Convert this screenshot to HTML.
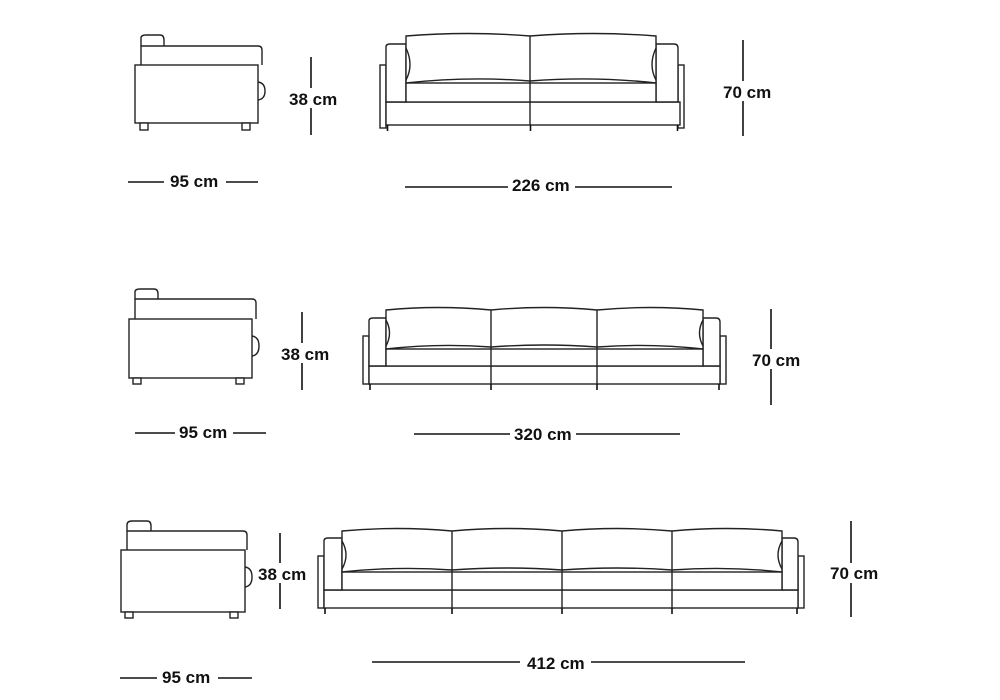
<!DOCTYPE html>
<html><head><meta charset="utf-8"><style>
html,body{margin:0;padding:0;background:#fff;width:1000px;height:700px;overflow:hidden}
svg{display:block}
text{font-family:"Liberation Sans",Arial,sans-serif;font-weight:bold;font-size:17px;fill:#111}
.s{fill:none;stroke:#222;stroke-width:1.4}
.f{fill:#fff;stroke:#222;stroke-width:1.4}
.d{stroke:#111;stroke-width:1.6}
.w{fill:#fff}
</style></head><body>
<svg width="1000" height="700" viewBox="0 0 1000 700">
<!-- ROW 1 side -->
<g>
<path class="f" d="M141 46 V38 Q141 35 146 35 H160 Q164 35 164 40 V46"/>
<path class="f" d="M141 65 V46 H258 Q262 46 262 50 V65"/>
<path class="f" d="M258 82 Q265 83 265 91 Q265 99 258 100"/>
<rect class="f" x="135" y="65" width="123" height="58"/>
<rect class="f" x="140" y="123" width="8" height="7"/>
<rect class="f" x="242" y="123" width="8" height="7"/>
</g>
<!-- ROW 1 front -->
<g>
<rect class="f" x="380" y="65" width="6" height="63"/>
<rect class="f" x="678" y="65" width="6" height="63"/>
<rect class="f" x="386" y="102" width="294" height="23"/>
<path class="f" d="M386 102 V47 Q386 44 390 44 H406 V102 Z"/>
<path class="f" d="M656 102 V44 H674 Q678 44 678 48 V102 Z"/>
<rect class="f" x="406" y="83" width="250" height="19"/>
<path class="f" d="M406 83 V36 Q468 31 530 36 Q593 31 656 36 V83 Q593 76 530 81 Q468 76 406 83 Z"/>
<line class="s" x1="530" y1="36" x2="530" y2="125"/>
<path class="s" d="M406 48 Q414 65 406 80 M656 48 Q648 65 656 80"/>
<line class="d" x1="387.5" y1="125" x2="387.5" y2="131"/>
<line class="d" x1="530.5" y1="125" x2="530.5" y2="131"/>
<line class="d" x1="677.5" y1="125" x2="677.5" y2="131"/>
</g>
<!-- ROW 1 dims -->
<line class="d" x1="311" y1="57" x2="311" y2="135"/>
<rect class="w" x="288" y="88" width="54" height="20"/>
<text x="289" y="105">38 cm</text>
<line class="d" x1="743" y1="40" x2="743" y2="136"/>
<rect class="w" x="722" y="81" width="54" height="20"/>
<text x="723" y="98">70 cm</text>
<line class="d" x1="128" y1="182" x2="164" y2="182"/>
<text x="170" y="187">95 cm</text>
<line class="d" x1="226" y1="182" x2="258" y2="182"/>
<line class="d" x1="405" y1="187" x2="508" y2="187"/>
<text x="512" y="191">226 cm</text>
<line class="d" x1="575" y1="187" x2="672" y2="187"/>

<!-- ROW 2 side -->
<g>
<path class="f" d="M135 299 V292 Q135 289 140 289 H154 Q158 289 158 294 V299"/>
<path class="f" d="M135 319 V299 H252 Q256 299 256 303 V319"/>
<path class="f" d="M252 336 Q259 337 259 346 Q259 355 252 356"/>
<rect class="f" x="129" y="319" width="123" height="59"/>
<rect class="f" x="133" y="378" width="8" height="6"/>
<rect class="f" x="236" y="378" width="8" height="6"/>
</g>
<!-- ROW 2 front -->
<g>
<rect class="f" x="363" y="336" width="6" height="48"/>
<rect class="f" x="720" y="336" width="6" height="48"/>
<rect class="f" x="369" y="366" width="351" height="18"/>
<path class="f" d="M369 366 V321 Q369 318 373 318 H386 V366 Z"/>
<path class="f" d="M703 366 V318 H716 Q720 318 720 322 V366 Z"/>
<rect class="f" x="386" y="349" width="317" height="17"/>
<path class="f" d="M386 349 V310 Q438 305 491 310 Q544 305 597 310 Q650 305 703 310 V349 Q650 343 597 347 Q544 343 491 347 Q438 343 386 349 Z"/>
<line class="s" x1="491" y1="310" x2="491" y2="384"/>
<line class="s" x1="597" y1="310" x2="597" y2="384"/>
<path class="s" d="M386 320 Q393 333 386 346 M703 320 Q696 333 703 346"/>
<line class="d" x1="370" y1="384" x2="370" y2="390"/>
<line class="d" x1="491" y1="384" x2="491" y2="390"/>
<line class="d" x1="597" y1="384" x2="597" y2="390"/>
<line class="d" x1="719" y1="384" x2="719" y2="390"/>
</g>
<!-- ROW 2 dims -->
<line class="d" x1="302" y1="312" x2="302" y2="390"/>
<rect class="w" x="280" y="343" width="54" height="20"/>
<text x="281" y="360">38 cm</text>
<line class="d" x1="771" y1="309" x2="771" y2="405"/>
<rect class="w" x="751" y="349" width="54" height="20"/>
<text x="752" y="366">70 cm</text>
<line class="d" x1="135" y1="433" x2="175" y2="433"/>
<text x="179" y="438">95 cm</text>
<line class="d" x1="233" y1="433" x2="266" y2="433"/>
<line class="d" x1="414" y1="434" x2="510" y2="434"/>
<text x="514" y="440">320 cm</text>
<line class="d" x1="576" y1="434" x2="680" y2="434"/>

<!-- ROW 3 side -->
<g>
<path class="f" d="M127 531 V525 Q127 521 132 521 H147 Q151 521 151 526 V531"/>
<path class="f" d="M127 550 V531 H243 Q247 531 247 535 V550"/>
<path class="f" d="M245 567 Q252 568 252 577 Q252 586 245 587"/>
<rect class="f" x="121" y="550" width="124" height="62"/>
<rect class="f" x="125" y="612" width="8" height="6"/>
<rect class="f" x="230" y="612" width="8" height="6"/>
</g>
<!-- ROW 3 front -->
<g>
<rect class="f" x="318" y="556" width="6" height="52"/>
<rect class="f" x="798" y="556" width="6" height="52"/>
<rect class="f" x="324" y="590" width="474" height="18"/>
<path class="f" d="M324 590 V541 Q324 538 328 538 H342 V590 Z"/>
<path class="f" d="M782 590 V538 H794 Q798 538 798 542 V590 Z"/>
<rect class="f" x="342" y="572" width="440" height="18"/>
<path class="f" d="M342 572 V531 Q397 526 452 531 Q507 526 562 531 Q617 526 672 531 Q727 526 782 531 V572 Q727 566 672 570 Q617 566 562 570 Q507 566 452 570 Q397 566 342 572 Z"/>
<line class="s" x1="452" y1="531" x2="452" y2="608"/>
<line class="s" x1="562" y1="531" x2="562" y2="608"/>
<line class="s" x1="672" y1="531" x2="672" y2="608"/>
<path class="s" d="M342 541 Q350 555 342 569 M782 541 Q774 555 782 569"/>
<line class="d" x1="325" y1="608" x2="325" y2="614"/>
<line class="d" x1="452" y1="608" x2="452" y2="614"/>
<line class="d" x1="562" y1="608" x2="562" y2="614"/>
<line class="d" x1="672" y1="608" x2="672" y2="614"/>
<line class="d" x1="797" y1="608" x2="797" y2="614"/>
</g>
<!-- ROW 3 dims -->
<line class="d" x1="280" y1="533" x2="280" y2="609"/>
<rect class="w" x="257" y="563" width="54" height="20"/>
<text x="258" y="580">38 cm</text>
<line class="d" x1="851" y1="521" x2="851" y2="617"/>
<rect class="w" x="829" y="563" width="54" height="20"/>
<text x="830" y="579">70 cm</text>
<line class="d" x1="120" y1="678" x2="157" y2="678"/>
<text x="162" y="683">95 cm</text>
<line class="d" x1="218" y1="678" x2="252" y2="678"/>
<line class="d" x1="372" y1="662" x2="520" y2="662"/>
<text x="527" y="669">412 cm</text>
<line class="d" x1="591" y1="662" x2="745" y2="662"/>
</svg>
</body></html>
